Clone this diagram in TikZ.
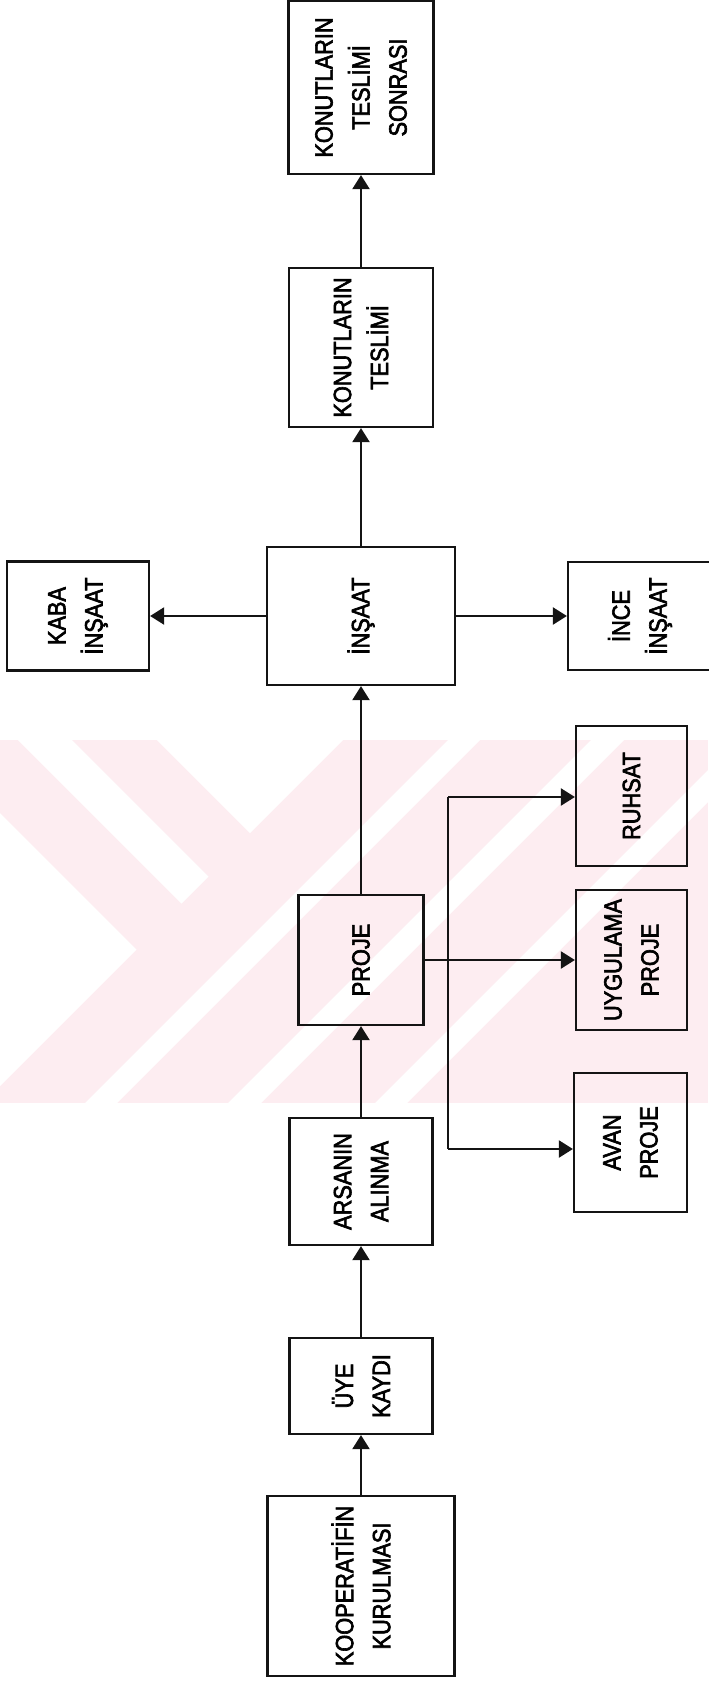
\documentclass[tikz,border=0pt]{standalone}
\usepackage{fontspec}
\setmainfont[FakeStretch=0.87,FakeBold=2.5]{Liberation Sans}
\usepackage{tikz}
\usetikzlibrary{arrows.meta,calc}
\definecolor{ng}{HTML}{141414}
\definecolor{filigran}{RGB}{253,237,241}

\begin{document}
\begin{tikzpicture}[x=0.5pt, y=-0.5pt,
    every node/.style={font=\fontsize{12.5}{18.5}\selectfont, align=center},
    blok/.style={draw=ng, line width=1.1pt, rotate=90, inner sep=0pt},
    ok/.style={-{Triangle[length=7pt,width=8.5pt]}, line width=1.1pt, color=ng},
    hat/.style={line width=1.1pt, color=ng},
    wm/.style={fill=filigran, draw=none},
    bos/.style={fill=white, draw=none}
  ]
  \useasboundingbox (0,0) rectangle (708,1686);

  % ---- filigran (arka plandaki soluk desen) ----------------------------
  \fill[wm] (0,740) rectangle (708,1103);
  \fill[bos] (18,740) -- (72,740) -- (208.5,876.5) -- (181.5,903.5) -- cycle;
  \fill[bos] (157,740) -- (343,740) -- (250,833) -- cycle;
  \fill[bos] (0,813) -- (136.5,949.5) -- (0,1086) -- cycle;
  \fill[bos] (448,740) -- (480,740) -- (117,1103) -- (85,1103) -- cycle;
  \fill[bos] (591,740) -- (624,740) -- (261,1103) -- (228,1103) -- cycle;
  \fill[bos] (708,770) -- (708,802) -- (407,1103) -- (375,1103) -- cycle;

  % ---- ana akis (asagidan yukari) ---------------------------------------
  \node[blok, minimum width=90pt, minimum height=93.5pt] (koop) at (361,1586) {KOOPERATİFİN\\KURULMASI};
  \node[blok, minimum width=48pt, minimum height=71.5pt] (uye) at (361,1386) {ÜYE\\KAYDI};
  \node[blok, minimum width=63.5pt, minimum height=71.5pt] (arsa) at (361,1181.5) {ARSANIN\\ALINMA};
  \node[blok, minimum width=65pt, minimum height=62.5pt] (proje) at (361,960) {PROJE};
  \node[blok, minimum width=69pt, minimum height=94pt] (insaat) at (361,616) {İNŞAAT};
  \node[blok, minimum width=79.5pt, minimum height=72pt] (teslim) at (361,347.5) {KONUTLARIN\\TESLİMİ};
  \node[blok, minimum width=86.5pt, minimum height=72.5pt] (sonra) at (361,87.5) {KONUTLARIN\\TESLİMİ\\SONRASI};

  % ---- yan kutular ------------------------------------------------------
  \node[blok, minimum width=54.5pt, minimum height=71pt] (kaba) at (78,616) {KABA\\İNŞAAT};
  \node[blok, minimum width=54pt, minimum height=72pt] (ince) at (640,616) {İNCE\\İNŞAAT};
  \node[blok, minimum width=70pt, minimum height=55.5pt] (ruhsat) at (631.5,796) {RUHSAT};
  \node[blok, minimum width=70pt, minimum height=55.5pt] (uyg) at (631.5,960) {UYGULAMA\\PROJE};
  \node[blok, minimum width=69.5pt, minimum height=56.5pt] (avan) at (630.5,1142.5) {AVAN\\PROJE};

  % ---- oklar ------------------------------------------------------------
  \draw[ok] (koop.east) -- (uye.west);
  \draw[ok] (uye.east) -- (arsa.west);
  \draw[ok] (arsa.east) -- (proje.west);
  \draw[ok] (proje.east) -- (insaat.west);
  \draw[ok] (insaat.east) -- (teslim.west);
  \draw[ok] (teslim.east) -- (sonra.west);
  \draw[ok] (insaat.north) -- (kaba.south);
  \draw[ok] (insaat.south) -- (ince.north);
  \draw[ok] (proje.south) -- (uyg.north);

  % proje dallari: ruhsat ve avan proje
  \coordinate (dal1) at (448,797);
  \coordinate (dal2) at (448,1149);
  \draw[hat] (dal1) -- (dal2);
  \draw[ok] (dal1) -- (dal1 -| ruhsat.north);
  \draw[ok] (dal2) -- (dal2 -| avan.north);

\end{tikzpicture}
\end{document}
